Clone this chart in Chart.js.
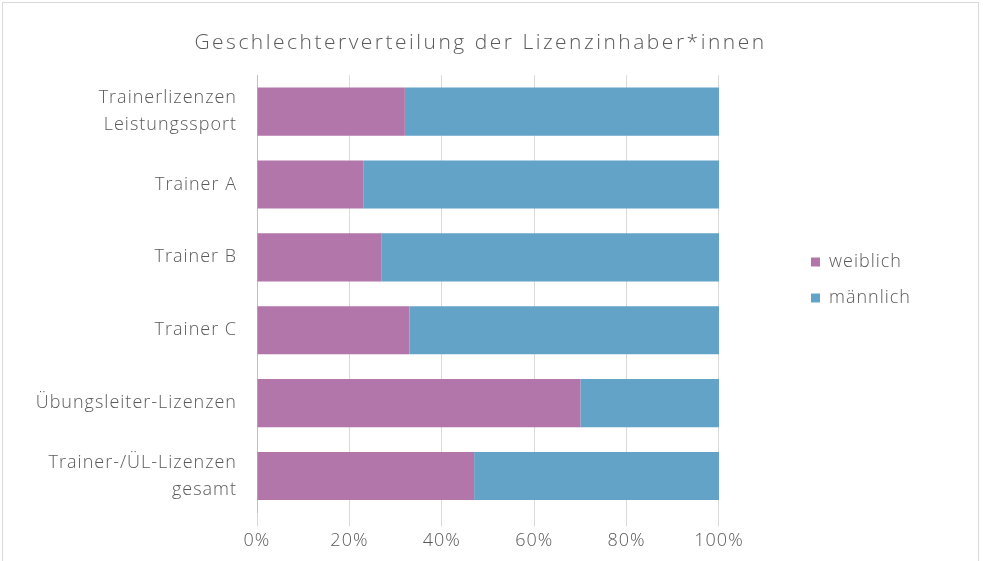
<!DOCTYPE html>
<html lang="de">
<head>
<meta charset="UTF-8">
<title>Geschlechterverteilung der Lizenzinhaber*innen</title>
<script src="https://cdn.jsdelivr.net/npm/chart.js"></script>
<style>
  html, body { margin: 0; padding: 0; background: #fff; overflow: hidden; }
  #frame { position: absolute; left: 2px; top: 2px; width: 977px; height: 580px; border: 1px solid #d9d9d9; box-sizing: border-box; }
  #wrap { position: absolute; left: 0; top: 0; width: 983px; height: 561px; }
</style>
</head>
<body>
<div id="frame"></div>
<div id="wrap"><canvas id="chart"></canvas></div>
<script>
  // Kategorien und Anteile (in %)
  const categories = [
    ['Trainerlizenzen', 'Leistungssport'],
    'Trainer A',
    'Trainer B',
    'Trainer C',
    'Übungsleiter-Lizenzen',
    ['Trainer-/ÜL-Lizenzen', 'gesamt']
  ];
  const weiblich = [32, 23, 27, 33, 70, 47];
  const maennlich = [68, 77, 73, 67, 30, 53];
  const xTicks = [0, 20, 40, 60, 80, 100];

  const grey = '#595959';
  const font = 'Open Sans';

  // etwas Laufweite wie im Original; Titel etwas nach rechts, Legende etwas höher
  const spacing = {
    id: 'spacing',
    beforeLayout(chart) { chart.ctx.letterSpacing = '1px'; },
    beforeDraw(chart) {
      chart.ctx.letterSpacing = '1px';
      const t = chart.titleBlock;
      if (t && !t._wrapped) {
        const draw = t.draw.bind(t);
        t.draw = function () { const c = this.ctx; c.save(); c.letterSpacing = '2.5px'; c.translate(15, 0); draw(); c.restore(); };
        t._wrapped = true;
      }
      const lg = chart.legend;
      if (lg && !lg._wrapped) {
        const draw = lg.draw.bind(lg);
        lg.draw = function () { const c = this.ctx; c.save(); c.translate(0, -11); draw(); c.restore(); };
        lg._wrapped = true;
      }
    }
  };

  new Chart(document.getElementById('chart'), {
    type: 'bar',
    data: {
      labels: categories,
      datasets: [
        { label: 'weiblich', data: weiblich, backgroundColor: '#b376aa', barPercentage: 0.66, categoryPercentage: 1 },
        { label: 'männlich', data: maennlich, backgroundColor: '#63a3c8', barPercentage: 0.66, categoryPercentage: 1 }
      ]
    },
    options: {
      indexAxis: 'y',
      responsive: true,
      maintainAspectRatio: false,
      animation: false,
      layout: { padding: { left: 10, right: 62, top: 26, bottom: 5 } },
      plugins: {
        title: {
          display: true,
          text: 'Geschlechterverteilung der Lizenzinhaber*innen',
          color: grey,
          font: { family: font, size: 21, weight: 300 },
          padding: { top: 4, bottom: 20 }
        },
        legend: {
          position: 'right',
          labels: {
            color: grey,
            font: { family: font, size: 18, weight: 300 },
            boxWidth: 9,
            boxHeight: 9,
            padding: 18
          }
        },
        tooltip: { enabled: false }
      },
      scales: {
        x: {
          stacked: true,
          min: 0,
          max: 100,
          afterBuildTicks: axis => { axis.ticks = xTicks.map(v => ({ value: v })); },
          ticks: {
            color: grey,
            font: { family: font, size: 18, weight: 300 },
            padding: 4,
            callback: v => v + '%'
          },
          grid: { color: '#d9d9d9', tickLength: 14 },
          border: { display: false }
        },
        y: {
          stacked: true,
          afterFit: axis => { axis.width = 247; },
          ticks: {
            color: grey,
            font: { family: font, size: 18, weight: 300, lineHeight: 1.5 },
            padding: 12
          },
          grid: { display: false },
          border: { color: '#bfbfbf', width: 1 }
        },
        // leere Achse rechts als Abstand zwischen Balken und Legende
        gap: {
          axis: 'y',
          type: 'category',
          position: 'right',
          afterFit: axis => { axis.width = 74; },
          ticks: { display: false },
          grid: { display: false },
          border: { display: false }
        }
      }
    },
    plugins: [spacing]
  });
</script>
</body>
</html>
